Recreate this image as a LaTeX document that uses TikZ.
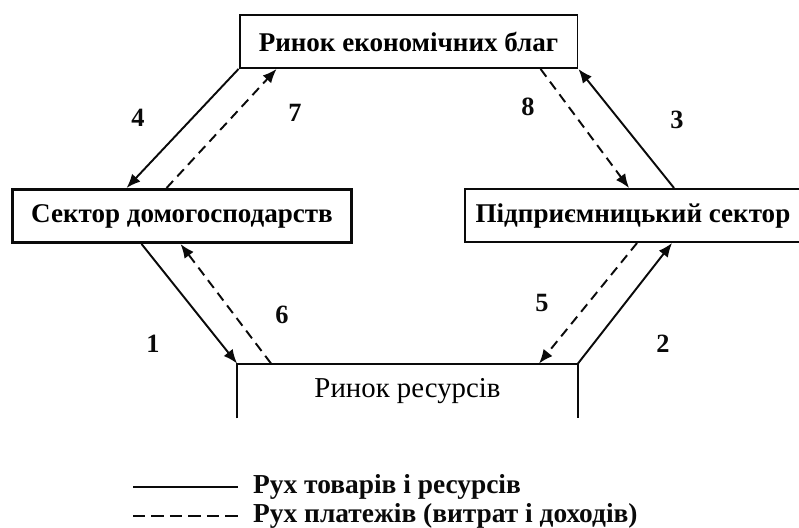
\documentclass[tikz,border=0pt]{standalone}
\usepackage{fontspec}
\setmainfont{Liberation Serif}
\usepackage{tikz}
\usetikzlibrary{arrows.meta, positioning, calc}
\definecolor{mydark}{RGB}{10,10,10}
\tikzset{
  sectorbox/.style={rectangle, draw=mydark, line width=1.1pt,
    minimum width=6.76cm, minimum height=1.06cm, inner sep=0pt,
    font=\fontsize{15.4}{18}\selectfont\bfseries},
  goodsflow/.style={-{Latex[length=8pt, width=6.5pt]}, line width=1.1pt, color=mydark},
  payflow/.style={goodsflow, dash pattern=on 5.5pt off 3.5pt},
  numlabel/.style={font=\fontsize{15}{18}\selectfont\bfseries, color=mydark},
  legendtext/.style={anchor=west, font=\fontsize{15.6}{18}\selectfont\bfseries, color=mydark}
}

\begin{document}
\begin{tikzpicture}[x=0.02cm, y=-0.02cm]
  \useasboundingbox (0,0) rectangle (799,528);
  % Markets and sectors
  \node[sectorbox] (goods) at (408.5,41.5) {Ринок економічних благ};
  \node[sectorbox, line width=1.7pt, minimum width=6.8cm] (house) at (182,216) {Сектор домогосподарств};
  \node[sectorbox, minimum width=6.72cm] (firms) at (633,215.5) {Підприємницький сектор};
  \node[sectorbox, draw=none, minimum width=6.78cm, font=\fontsize{16.4}{19}\selectfont] (res) at (407.5,391) {Ринок ресурсів};
  \draw[line width=1.1pt, color=mydark] (res.south west) -- (res.north west) -- (res.north east) -- (res.south east);

  % Goods market <-> households
  \draw[goodsflow] (goods.south west) -- ($(house.north west)+(116,0)$);
  \draw[payflow] ($(house.north west)+(156,0)$) -- ($(goods.south west)+(38,0)$);
  \node[numlabel] (n4) at (138,118) {4};
  \node[numlabel] (n7) at (295,113) {7};

  % Goods market <-> firms
  \draw[payflow] ($(goods.south west)+(302,0)$) -- ($(firms.north west)+(165,0)$);
  \draw[goodsflow] ($(firms.north west)+(210,0)$) -- (goods.south east);
  \node[numlabel] (n8) at (528,107) {8};
  \node[numlabel] (n3) at (677,120) {3};

  % Households <-> resource market
  \draw[goodsflow] ($(house.south west)+(131,0)$) -- (res.north west);
  \draw[payflow] ($(res.north west)+(34,0)$) -- ($(house.south west)+(170,0)$);
  \node[numlabel] (n1) at (153,344) {1};
  \node[numlabel] (n6) at (282,315) {6};

  % Firms <-> resource market
  \draw[payflow] ($(firms.south west)+(173,0)$) -- ($(res.north west)+(302,0)$);
  \draw[goodsflow] (res.north east) -- ($(firms.south west)+(208,0)$);
  \node[numlabel] (n5) at (542,303) {5};
  \node[numlabel] (n2) at (663,344) {2};

  % Legend
  \node[legendtext] (leggoods) at (247,487) {Рух товарів і ресурсів};
  \node[legendtext] (legpay) at (247,516) {Рух платежів (витрат і доходів)};
  \coordinate (legg) at (133,487);
  \coordinate (legp) at (133,516);
  \draw[line width=1.6pt, color=mydark] (legg) -- (leggoods.west -| 238,0);
  \draw[line width=1.6pt, color=mydark, dash pattern=on 7pt off 3.5pt] (legp) -- (legpay.west -| 238,0);
\end{tikzpicture}
\end{document}
